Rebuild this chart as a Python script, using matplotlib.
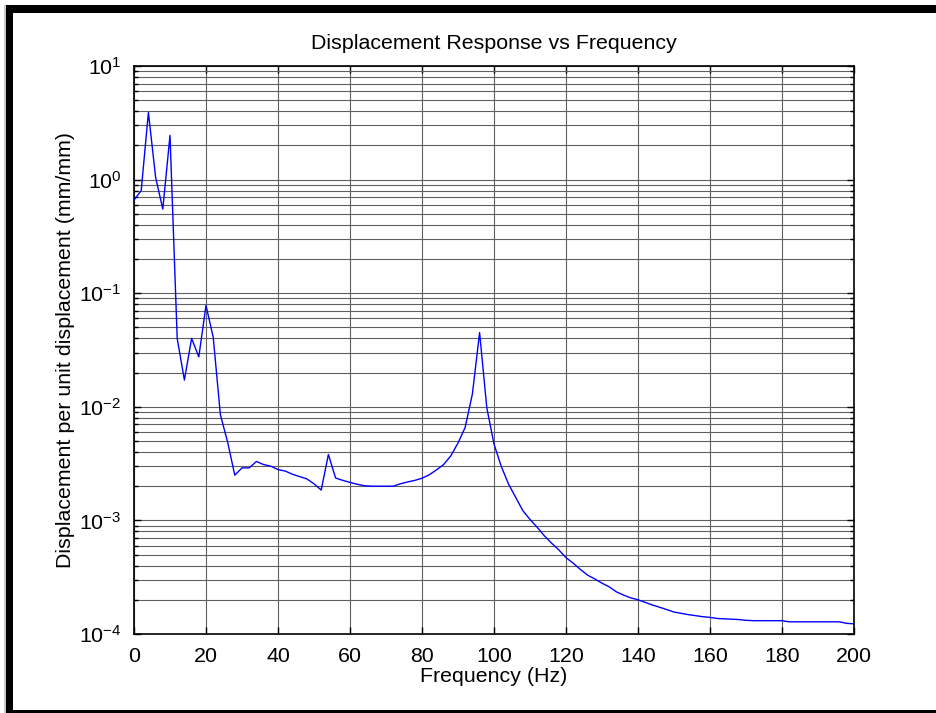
import matplotlib

matplotlib.use("Agg")
import matplotlib.pyplot as plt
from matplotlib.patches import Rectangle
from matplotlib.ticker import LogLocator, MultipleLocator, NullFormatter

# frequency samples (Hz), 2 Hz spacing
freq = list(range(0, 202, 2))

# displacement per unit displacement (mm/mm)
response = [
    0.66, 0.80, 3.9, 1.05, 0.55, 2.45,
    0.040, 0.0172, 0.040, 0.0275, 0.078, 0.041,
    0.0085, 0.0049, 0.0025, 0.0029, 0.0029, 0.0033,
    0.0031, 0.0030, 0.0028, 0.00272, 0.00255, 0.00243,
    0.00232, 0.0021, 0.00185, 0.0038, 0.00236, 0.00225,
    0.00216, 0.00208, 0.00202, 0.0020, 0.0020, 0.0020,
    0.0020, 0.0021, 0.00218, 0.00225, 0.00235, 0.00252,
    0.00278, 0.0031, 0.0037, 0.0048, 0.0066, 0.013,
    0.045, 0.0098, 0.0047, 0.0030, 0.0021, 0.0016,
    0.00122, 0.00102, 0.00087, 0.00073, 0.00063, 0.00055,
    0.00047, 0.00042, 0.00037, 0.00033, 0.000305, 0.00028,
    0.00026, 0.000235, 0.00022, 0.000208, 0.0002, 0.00019,
    0.00018, 0.000172, 0.000164, 0.000156, 0.000152, 0.000148,
    0.000145, 0.000142, 0.00014, 0.000137, 0.000136, 0.000135,
    0.000134, 0.000132, 0.000131, 0.000131, 0.000131, 0.000131,
    0.000131, 0.000128, 0.000128, 0.000128, 0.000128, 0.000128,
    0.000128, 0.000128, 0.000128, 0.000124, 0.000123,
]

plt.rcParams["font.family"] = ["Liberation Sans", "DejaVu Sans"]
plt.rcParams["mathtext.fontset"] = "custom"
plt.rcParams["mathtext.rm"] = "Liberation Sans"
plt.rcParams["mathtext.it"] = "Liberation Sans:italic"
plt.rcParams["mathtext.bf"] = "Liberation Sans:bold"

FS = 15.4
W, H = 937, 713
fig = plt.figure(figsize=(W / 100, H / 100), dpi=100, facecolor="white")

# black frame around the picture (top, left, bottom)
def px_rect(x0, y0, x1, y1, color="black"):
    fig.patches.append(Rectangle((x0 / W, 1 - y1 / H), (x1 - x0) / W, (y1 - y0) / H,
                                 transform=fig.transFigure, facecolor=color,
                                 edgecolor="none", zorder=10))

px_rect(4, 5, 6, H, color="#c8c8c8")
px_rect(6, 5, W, 13)
px_rect(6, 5, 13, H)
px_rect(6, 710, W, H)

ax = fig.add_axes([134 / W, 1 - 634 / H, 720 / W, 568 / H])
ax.semilogy(freq, response, color="#0000ff", linewidth=1.0, zorder=3)

ax.set_xlim(0, 200)
ax.set_ylim(1e-4, 1e1)
ax.xaxis.set_major_locator(MultipleLocator(20))
ax.yaxis.set_major_locator(LogLocator(base=10, numticks=10))
ax.yaxis.set_minor_locator(LogLocator(base=10, subs=range(2, 10), numticks=20))
ax.yaxis.set_minor_formatter(NullFormatter())

ax.grid(True, which="major", axis="both", color="#606060", linewidth=0.8)
ax.grid(True, which="minor", axis="y", color="#606060", linewidth=0.8)
ax.set_axisbelow(True)

ax.tick_params(which="both", direction="in", top=True, right=True, width=1.0,
               labelsize=FS, colors="black")
ax.tick_params(which="major", length=5, pad=9)
ax.tick_params(which="minor", length=3)
for spine in ax.spines.values():
    spine.set_linewidth(1.2)

ax.set_title("Displacement Response vs Frequency", fontsize=FS, pad=12)
ax.set_xlabel("Frequency (Hz)", fontsize=FS, labelpad=1)
ax.set_ylabel("Displacement per unit displacement (mm/mm)", fontsize=FS, labelpad=3)

fig.savefig("out.png", dpi=100, facecolor="white")
